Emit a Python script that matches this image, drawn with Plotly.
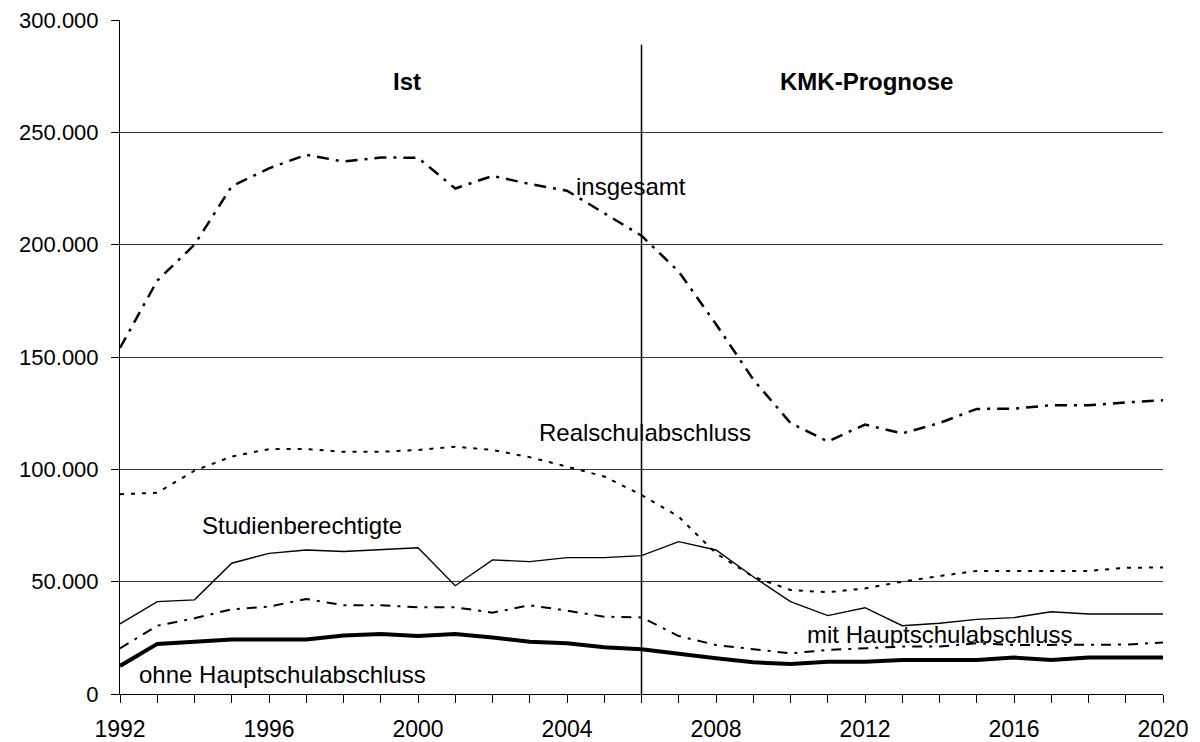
import plotly.graph_objects as go

# Jahre und Werte
years = list(range(1992, 2021))

insgesamt = [154000, 184000, 200000, 226000, 234000, 240000, 237000, 238800, 238700, 225000,
             230600, 227000, 224000, 214000, 204000, 188000, 164600, 140000, 120600, 112400,
             119900, 116000, 120600, 126900, 127000, 128500, 128500, 129800, 130700]
realschul = [88900, 89600, 99400, 105700, 109000, 109000, 107800, 107800, 108600, 110100,
             108600, 105400, 101200, 96800, 88600, 78900, 62600, 52200, 46300, 45300,
             47000, 50000, 52500, 54800, 54800, 54800, 54800, 56200, 56300]
studienber = [31200, 41100, 41900, 58200, 62600, 64100, 63400, 64100, 65100, 48200,
              59700, 58900, 60700, 60700, 61600, 67800, 64100, 52200, 41100, 34900,
              38400, 30400, 31500, 33200, 34000, 36600, 35600, 35600, 35600]
mit_haupt = [20300, 30400, 33700, 37700, 38900, 42300, 39500, 39500, 38600, 38600,
             36200, 39500, 37100, 34400, 34100, 25800, 21800, 19900, 18100, 19600,
             20300, 21100, 21100, 22600, 21800, 21800, 21800, 22000, 22900]
ohne_haupt = [12500, 22300, 23300, 24300, 24300, 24300, 26000, 26700, 25800, 26700,
              25100, 23300, 22600, 20800, 19900, 17800, 15900, 14100, 13400, 14400,
              14400, 15100, 15100, 15100, 16200, 15100, 16200, 16200, 16200]

font = "Liberation Sans, Arial, sans-serif"

fig = go.Figure()

# Linien
fig.add_trace(go.Scatter(x=years, y=insgesamt, mode="lines",
                         line=dict(color="black", width=2.5, dash="12px,7px,3px,7px")))
fig.add_trace(go.Scatter(x=years, y=realschul, mode="lines",
                         line=dict(color="black", width=2, dash="4px,7px")))
fig.add_trace(go.Scatter(x=years, y=studienber, mode="lines",
                         line=dict(color="black", width=1.4)))
fig.add_trace(go.Scatter(x=years, y=mit_haupt, mode="lines",
                         line=dict(color="black", width=2, dash="10px,7px,3px,7px")))
fig.add_trace(go.Scatter(x=years, y=ohne_haupt, mode="lines",
                         line=dict(color="black", width=4)))

# Trennlinie Ist / Prognose
fig.add_shape(type="line", x0=2006, x1=2006, y0=0, y1=289000,
              xref="x", yref="y", line=dict(color="black", width=1.5))

labels = [
    dict(text="<b>Ist</b>", x=1999.7, y=272500, xanchor="center"),
    dict(text="<b>KMK-Prognose</b>", x=2012.05, y=272500, xanchor="center"),
    dict(text="insgesamt", x=2004.2, y=225700, xanchor="left"),
    dict(text="Realschulabschluss", x=2003.2, y=116600, xanchor="left"),
    dict(text="Studienberechtigte", x=1994.15, y=75200, xanchor="left"),
    dict(text="mit Hauptschulabschluss", x=2010.4, y=26300, xanchor="left"),
    dict(text="ohne Hauptschulabschluss", x=1992.45, y=8500, xanchor="left"),
]
for a in labels:
    fig.add_annotation(text=a["text"], x=a["x"], y=a["y"], xanchor=a["xanchor"],
                       yanchor="middle", showarrow=False,
                       font=dict(family=font, size=24, color="black"))

# die Seite hat 8px Rand, daher 1192x734
fig.update_layout(
    width=1192, height=734,
    margin=dict(l=112, r=37, t=12, b=48),
    plot_bgcolor="white", paper_bgcolor="white",
    showlegend=False,
    separators=",.",
    font=dict(family=font, size=24, color="black"),
)
fig.update_xaxes(
    range=[1992, 2020], tick0=1992, dtick=4, automargin=False,
    ticks="outside", ticklen=8, tickcolor="black", tickwidth=1,
    ticklabelstandoff=6, ticklabeloverflow="allow",
    minor=dict(dtick=1, ticks="outside", ticklen=8, tickcolor="black", showgrid=False),
    showgrid=False, zeroline=False,
    showline=True, linecolor="black", linewidth=1,
    tickfont=dict(size=23),
)
fig.update_yaxes(
    range=[0, 300000], dtick=50000, tickformat=",.0f", automargin=False,
    ticks="outside", ticklen=8, tickcolor="black",
    ticklabelstandoff=8, ticklabeloverflow="allow",
    showgrid=True, gridcolor="#333", gridwidth=1,
    zeroline=False, showline=True, linecolor="black", linewidth=1,
    tickfont=dict(size=22),
)

fig.write_html("out.html")
